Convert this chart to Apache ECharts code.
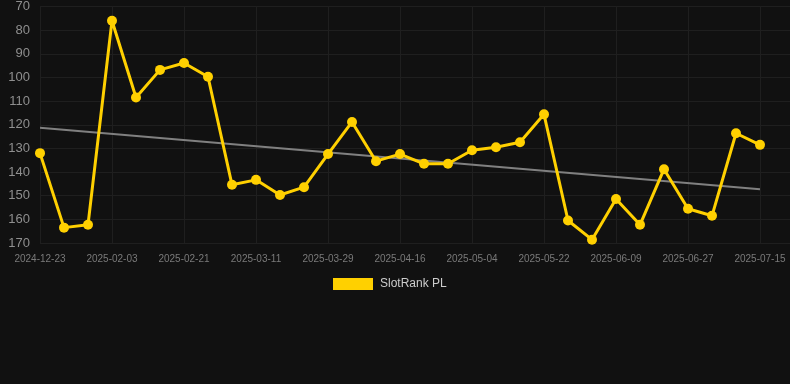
<!DOCTYPE html>
<html>
<head>
<meta charset="utf-8">
<script src="https://cdn.jsdelivr.net/npm/echarts@6/dist/echarts.min.js"></script>
<style>
html,body{margin:0;padding:0;background:#111111;}
#c{width:790px;height:384px;}
</style>
</head>
<body>
<div id="c"></div>
<script>
var dates = ["2024-12-23","2025-01-06","2025-01-20","2025-02-03","2025-02-09","2025-02-15","2025-02-21","2025-02-27","2025-03-05","2025-03-11","2025-03-17","2025-03-23","2025-03-29","2025-04-04","2025-04-10","2025-04-16","2025-04-22","2025-04-28","2025-05-04","2025-05-10","2025-05-16","2025-05-22","2025-05-28","2025-06-03","2025-06-09","2025-06-15","2025-06-21","2025-06-27","2025-07-03","2025-07-09","2025-07-15"];
var ranks = [132,163.5,162.3,76,108.5,96.8,93.9,99.7,145.4,143.3,149.7,146.4,132.4,118.8,135.4,132.4,136.5,136.5,130.8,129.5,127.4,115.6,160.5,168.6,151.4,162.3,138.8,155.5,158.5,123.6,128.5];
var trendStart = 121.3;
var trendEnd = 147.3;
var seriesName = "SlotRank PL";

var mainData = ranks.map(function(v,i){return [i,v];});
var trendData = [[0,trendStart],[dates.length-1,trendEnd]];

var chart = echarts.init(document.getElementById('c'), null, {renderer:'canvas'});
chart.setOption({
  backgroundColor:'#111111',
  animation:false,
  grid:{left:40,right:0,top:6,bottom:141,containLabel:false},
  legend:{
    data:[seriesName],
    top:273,
    left:328,
    itemWidth:40,
    itemHeight:12,
    icon:'rect',
    textStyle:{color:'#cccccc',fontSize:12,padding:[0,0,0,2],fontFamily:'Liberation Sans, Arial, sans-serif'}
  },
  xAxis:{
    type:'value',
    min:0,
    max:31.25,
    interval:3,
    axisLine:{show:false},
    axisTick:{show:false},
    axisLabel:{
      color:'#7a7a7a',fontSize:10,margin:11,
      fontFamily:'Liberation Sans, Arial, sans-serif',
      showMaxLabel:false,
      formatter:function(v){return (Number.isInteger(v) && dates[v]) ? dates[v] : '';}
    },
    splitLine:{show:true,lineStyle:{color:'#1f1f1f',width:1}}
  },
  yAxis:{
    type:'value',
    inverse:true,
    min:70,max:170,interval:10,
    axisLine:{show:false},
    axisTick:{show:false},
    axisLabel:{color:'#8f8f8f',fontSize:13,margin:10,fontFamily:'Liberation Sans, Arial, sans-serif'},
    splitLine:{show:true,lineStyle:{color:'#1f1f1f',width:1}}
  },
  series:[
    {
      name:'trend',
      type:'line',
      data:trendData,
      symbol:'none',
      silent:true,
      lineStyle:{color:'#808080',width:2},
      z:1
    },
    {
      name:seriesName,
      type:'line',
      data:mainData,
      symbol:'circle',
      symbolSize:10,
      itemStyle:{color:'#ffd000'},
      lineStyle:{color:'#ffd000',width:3},
      z:2
    }
  ]
});
</script>
</body>
</html>
